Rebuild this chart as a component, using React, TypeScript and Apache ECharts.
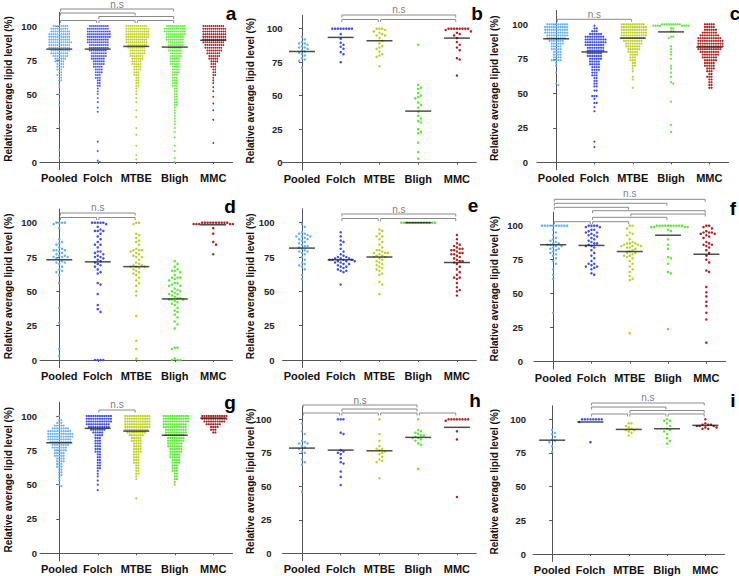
import React, { useEffect, useRef } from 'react';
import * as echarts from 'echarts';

type Entry = number | [number, number];

const categories = ['Pooled', 'Folch', 'MTBE', 'Bligh', 'MMC'];
const yTicks = [0, 25, 50, 75, 100];
const groupColors = ['#62aef0', '#3447e0', '#bccb1c', '#55e62e', '#a81616'];

// ---- panel a ---- ([value, count] = count points at that value)
const aPooled: Entry[] = [[100, 8], [98, 9], [96, 10], [94, 11], [92, 11], [90, 11], [88, 12], [86, 11], [84, 11], [82, 10], [80, 9], [78, 8], [76, 6], [74, 5], [72, 4], [70, 4], [68, 3], [66, 2], [64, 3], [62, 2], [60, 2], 57, 55, 50, 46, 42, 27, 9, 3];
const aFolch: Entry[] = [[100, 10], [98, 11], [96, 12], [94, 12], [92, 12], [90, 11], [88, 11], [86, 10], [84, 10], [82, 9], [80, 8], [78, 8], [76, 7], [74, 6], [72, 6], [70, 5], [68, 4], [66, 4], [64, 3], [62, 3], [60, 2], [58, 2], [56, 2], 54, 52, 50, 47, 44, 40, 37, 15, 8, 1, 0];
const aMTBE: Entry[] = [[100, 11], [98, 12], [96, 12], [94, 12], [92, 12], [90, 11], [88, 11], [86, 10], [84, 9], [82, 8], [80, 8], [78, 7], [76, 6], [74, 5], [72, 5], [70, 4], [68, 4], [66, 3], [64, 3], [62, 2], [60, 2], [58, 2], [56, 2], 54, 52, 50, 47, 44, 38, 33, 25, 20, 12, 5, 2];
const aBligh: Entry[] = [[100, 10], [98, 11], [96, 11], [94, 10], [92, 9], [90, 9], [88, 8], [86, 8], [84, 7], [82, 7], [80, 6], [78, 6], [76, 5], [74, 5], [72, 5], [70, 4], [68, 4], [66, 4], [64, 3], [62, 3], [60, 3], [58, 3], [56, 3], [54, 2], [52, 2], [50, 2], [48, 2], [46, 2], [44, 2], [42, 2], 40, 38, 36, 34, 32, 30, 28, 25, 22, 18, 12, 8, 3, 0];
const aMMC: Entry[] = [[100, 11], [98, 12], [96, 12], [94, 12], [92, 12], [90, 12], [88, 11], [86, 10], [84, 9], [82, 8], [80, 7], [78, 6], [76, 5], [74, 4], [72, 3], [70, 3], [68, 2], [66, 2], [64, 2], 62, 60, 58, 55, 52, 48, 43, 38, 31, 14];
const aMedians = [83, 83, 85, 84.5, 89.5];
const aPairs = [[0, 3], [0, 2], [1, 3], [0, 1], [1, 2], [2, 3]];

// ---- panel b ----
const bPooled: Entry[] = [94, 92, 90, 89, 89, 88, 87, 86, 86, 85, 84, 83, 82, 81, 80, 78, 77, 76, 71];
const bFolch: Entry[] = [[100, 8], 96, 92.5, 89.5, 88, 86.5, 85, 82.5, 81, 75];
const bMTBE: Entry[] = [[100, 3], 99, 98, 97, 96, [95, 2], 93, 91, 89, 87, 86, 85, 83, 81, 80, 79, 72];
const bBligh: Entry[] = [88, 58, 56, 55, 52, 50, 49, 48, 45, 43, 41, 38, 35, 33, 31, 30, 25, 23, 22, 15, 8, 3];
const bMMC: Entry[] = [[100, 8], 99, 98, 97, 96, 95, 93, 90, 88, 86, 84, 78, 77, 65];
const bMedians = [83, 93.5, 91, 38.5, 93];
const bPairs = [[1, 4], [1, 2], [2, 4]];

// ---- panel c ----
const cPooled: Entry[] = [[100, 10], [98, 11], [96, 11], [94, 11], [92, 10], [90, 9], [88, 7], [86, 6], [84, 5], [82, 5], [80, 4], [78, 4], [76, 4], [74, 5], 72, 70, 65, 57, 56];
const cFolch: Entry[] = [99, [97, 2], [95, 3], [93, 6], [91, 9], [89, 10], [87, 10], [85, 9], [83, 8], [81, 8], [79, 7], [77, 7], [75, 6], [73, 5], [71, 5], [69, 4], [67, 4], [65, 3], [63, 3], [61, 2], [59, 2], [57, 2], [55, 2], [52, 2], [48, 3], 46, [43, 2], 40, 37, 15, 11];
const cMTBE: Entry[] = [[100, 11], [98, 12], [96, 12], [94, 12], [92, 12], [90, 11], [88, 9], [86, 8], [84, 7], [82, 6], [80, 5], [78, 4], [76, 3], [74, 3], [72, 2], [70, 2], 68, 66, 62, 60, 54];
const cBligh: Entry[] = [[100, 9], [99, 8], [97, 2], [95, 2], [91, 2], 90, 84, 82, 80, 78, 75, 70, 68, 65, 62, 58, 57, 44, 27, 22];
const cMMC: Entry[] = [[100, 5], [98, 5], [96, 6], [94, 7], [92, 9], [90, 11], [88, 12], [86, 12], [84, 12], [82, 11], [80, 9], [78, 8], [76, 7], [74, 6], [72, 5], [70, 5], [68, 4], [66, 3], [64, 2], [62, 3], [60, 2], [58, 2], [56, 2], [54, 2]];
const cMedians = [89.5, 80, 90, 94.5, 83.5];
const cPairs = [[0, 2]];

// ---- panel d ----
const dPooled: Entry[] = [[100, 4], 99, 96, 88, 86, 85, 84, 82, 81, [80, 3], 79, 78, 77, [76, 2], [75, 3], 74, 73, 72, [71, 2], 70, 68, 66, 65, 64, 62, 56, 38, 27, 8, 3];
const dFolch: Entry[] = [[100, 5], 99, 97, 95, [94, 3], 92, 90, 88, 86, [84, 2], 82, [79, 2], 78, 77, 76, [75, 2], 74, 73, 72, 71, 70, 69, 68, 66, 64, 63, 56, 55, 48, 40, 37, 35, [0, 4]];
const dMTBE: Entry[] = [[100, 2], 99, 92, 91, 89, 87, 86, 84, 81, [80, 3], 79, 78, 77, 76, [75, 2], 73, 71, 70, [69, 2], [68, 3], 67, 66, 65, 64, 63, 62, 60, 58, 56, 54, 50, 47, 32, 14, 8, 1];
const dBligh: Entry[] = [72, 70, 68, 66, [65, 2], 64, 62, [60, 3], 59, 58, [56, 2], 55, [54, 2], 52, 51, [50, 2], 49, [48, 2], 47, 46, [45, 2], [44, 3], 43, 42, 41, 40, 38, 36, 35, 33, 31, 28, 26, 23, [9, 2], 8, 1, [0, 3]];
const dMMC: Entry[] = [[100, 10], [99, 5], 96, 92, 86, 84, 77];
const dMedians = [73, 71.5, 68, 44.5, 98.5];
const dPairs = [[0, 2], [0, 1], [1, 2]];

// ---- panel e ----
const ePooled: Entry[] = [99, 97, 93, [92, 2], 91, [90, 3], 89, [88, 2], 87, 86, 85, 84, [83, 2], 82, 81, 80, [79, 2], 78, 77, 75, 73, 71, 70, 69, 68, 66, 62, 59];
const eFolch: Entry[] = [93, 90, 87, 86, 84, 81, 79, 77, 76, [75, 2], [74, 3], [73, 4], [72, 3], [71, 2], [70, 2], 69, [68, 2], 67, 66, [65, 2], 64, 55];
const eMTBE: Entry[] = [95, 94, 92, [90, 2], 88, 86, 84, 82, [80, 2], 79, [78, 3], 77, [76, 2], [75, 2], 74, 73, 72, 71, 70, 69, 68, 67, 66, 65, 63, 62, 57, 55, 48];
const eBligh: Entry[] = [[100, 13]];
const eMMC: Entry[] = [91, 88, 85, 84, 83, 82, [81, 2], [80, 2], 79, [78, 2], [77, 2], 76, 75, 74, 73, [72, 2], 71, 70, 68, 66, 64, 62, [60, 2], 59, 56, 53, 51, 50, 47];
const eMedians = [81.5, 73, 75, 100, 71];
const ePairs = [[1, 4], [1, 2], [2, 4]];

// ---- panel f ----
const fPooled: Entry[] = [[100, 10], 97, 95, 93, 91, 90, 89, 88, [87, 2], [86, 2], [85, 2], 84, [83, 2], 82, 81, 80, 79, 78, 76, 74, 72, 68, 64, 61, 36];
const fFolch: Entry[] = [[100, 4], [99, 2], [97, 2], 96, [95, 2], 94, [93, 2], 92, 91, 90, 89, 88, [87, 2], 86, [85, 2], 84, 82, 80, 78, 76, 74, [72, 2], 71, [70, 2], 69, 68, 65, 64];
const fMTBE: Entry[] = [[100, 2], 98, 95, 94, 93, 90, 88, [87, 3], [86, 2], [85, 3], [84, 2], 83, 82, 81, [80, 2], 79, [78, 2], 77, 76, 74, 72, 70, 68, 66, 63, 61, 60, 21];
const fBligh: Entry[] = [[100, 10], [99, 4], 97, 96, 90, 86, 83, 77, 76, 72, 66, 65, 24];
const fMMC: Entry[] = [[100, 2], 99, 98, 96, [95, 3], [94, 2], 93, 92, 91, 88, 87, [86, 2], 85, 84, 82, 80, 78, 75, 73, 67, 66, 55, 51, 48, 44, 41, 36, 31, 14];
const fMedians = [86, 85.5, 81, 93, 79];
const fPairs = [[0, 4], [0, 3], [0, 2], [1, 4], [2, 4], [1, 3], [0, 1], [1, 2]];

// ---- panel g ----
const gPooled: Entry[] = [100, [97, 2], [95, 3], [93, 5], [91, 8], [89, 11], [87, 12], [85, 12], [83, 11], [81, 10], [79, 8], [77, 7], [75, 6], [73, 5], [71, 5], [69, 4], [67, 4], [65, 3], [63, 3], [61, 2], [59, 2], [57, 2], 55, 53, 50, 49];
const gFolch: Entry[] = [[100, 12], [98, 12], [96, 12], [94, 11], [92, 10], [90, 7], [88, 5], [86, 4], [84, 3], [82, 3], [80, 3], [78, 3], [76, 3], [74, 3], [72, 2], [70, 2], [68, 2], [66, 2], [64, 2], [62, 2], 60, 58, 56, 53, 50, 46];
const gMTBE: Entry[] = [[100, 12], [98, 12], [96, 12], [94, 12], [92, 12], [90, 11], [88, 9], [86, 7], [84, 5], [82, 5], [80, 4], [78, 4], [76, 4], [74, 4], [72, 3], [70, 3], [68, 3], [66, 3], [64, 2], [62, 2], [60, 2], [58, 2], 56, 54, 40];
const gBligh: Entry[] = [[100, 12], [98, 12], [96, 12], [94, 11], [92, 11], [90, 10], [88, 10], [86, 9], [84, 8], [82, 8], [80, 7], [78, 7], [76, 6], [74, 6], [72, 5], [70, 5], [68, 4], [66, 4], [64, 3], [62, 3], [60, 3], [58, 2], [56, 2], [54, 2], 52, 50];
const gMMC: Entry[] = [[100, 12], [98, 12], [96, 10], [94, 7], [92, 4], [90, 3], [88, 2]];
const gMedians = [80.5, 91, 89, 86, 98.5];
const gPairs = [[1, 2]];

// ---- panel h ----
const hPooled: Entry[] = [97, 91, 89, 84, 83, [82, 2], 80, 79, 78, 76, 75, 70, 68, 66, 46];
const hFolch: Entry[] = [[100, 3], 90, 89, 77, 76, 75, 74, 71, 68, 67, 61, 57, 51];
const hMTBE: Entry[] = [100, 89, 84, 80, [78, 2], 77, 76, 75, 74, 72, 70, 69, 68, 56];
const hBligh: Entry[] = [100, 92, 91, 90, 89, [88, 2], 87, [86, 2], 85, 84, 82, 81, 63];
const hMMC: Entry[] = [[100, 8], 99, 91, 85, 42];
const hMedians = [78.5, 77, 76.5, 86.5, 94];
const hPairs = [[0, 3], [1, 3], [0, 1], [1, 2], [2, 3], [3, 4]];

// ---- panel i ----
const iPooled: Entry[] = [92, 90, 89, 87, 85, 84, 83, 80, 76];
const iFolch: Entry[] = [[100, 8], 98, 83];
const iMTBE: Entry[] = [[97, 2], 95, 94, 93, [92, 2], 91, 90, 88];
const iBligh: Entry[] = [100, [99, 2], 97, 95, 93, 92, 91, 89, 86, 84, 82];
const iMMC: Entry[] = [100, 97, [96, 3], [95, 3], [94, 2], [93, 2]];
const iMedians = [84.5, 98, 92.5, 93, 95.5];
const iPairs = [[1, 4], [1, 3], [2, 4], [1, 2], [2, 3], [3, 4]];

const panelGroups = [
  [aPooled, aFolch, aMTBE, aBligh, aMMC],
  [bPooled, bFolch, bMTBE, bBligh, bMMC],
  [cPooled, cFolch, cMTBE, cBligh, cMMC],
  [dPooled, dFolch, dMTBE, dBligh, dMMC],
  [ePooled, eFolch, eMTBE, eBligh, eMMC],
  [fPooled, fFolch, fMTBE, fBligh, fMMC],
  [gPooled, gFolch, gMTBE, gBligh, gMMC],
  [hPooled, hFolch, hMTBE, hBligh, hMMC],
  [iPooled, iFolch, iMTBE, iBligh, iMMC],
];
const panelMedians = [aMedians, bMedians, cMedians, dMedians, eMedians, fMedians, gMedians, hMedians, iMedians];
const panelPairs = [aPairs, bPairs, cPairs, dPairs, ePairs, fPairs, gPairs, hPairs, iPairs];
const panelLetters = ['a', 'b', 'c', 'd', 'e', 'f', 'g', 'h', 'i'];

// ---- layout (pixels) ----
interface Layout { left: number; width: number; y100: number; y0: number; yOff: number; rows: number[]; ns: number; lx: number; ly: number; tx: number; dot: number; gap: number; }
const layouts: Layout[] = [
  { left: 40, width: 192.5, y100: 26, y0: 162, yOff: 0, rows: [9, 13, 16.5, 20.5, 20.5, 20.5], ns: 4.5, lx: 231, ly: 13, tx: 8, dot: 1.8, gap: 2.0 },
  { left: 282.6, width: 193.7, y100: 28.7, y0: 162.7, yOff: -3, rows: [15, 19.5, 19.5], ns: 9, lx: 477, ly: 13, tx: 250, dot: 2.5, gap: 2.8 },
  { left: 537, width: 191.5, y100: 24.3, y0: 162.3, yOff: 6, rows: [19.3], ns: 14, lx: 735, ly: 13, tx: 494, dot: 2.2, gap: 2.2 },
  { left: 40, width: 192.5, y100: 222.7, y0: 360, yOff: 0, rows: [213, 217.5, 217.5], ns: 207.5, lx: 230, ly: 206, tx: 8, dot: 2.5, gap: 2.8 },
  { left: 282.6, width: 193.7, y100: 222.7, y0: 360, yOff: 5, rows: [214, 218.5, 218.5], ns: 209, lx: 473, ly: 205, tx: 250, dot: 2.5, gap: 2.8 },
  { left: 534, width: 191.5, y100: 225.7, y0: 361.7, yOff: 8, rows: [199.3, 203.3, 207.3, 210.7, 214, 217.3, 221.7, 221.7], ns: 193.5, lx: 733, ly: 208, tx: 494, dot: 2.5, gap: 2.8 },
  { left: 40, width: 192.5, y100: 416, y0: 553.3, yOff: 0, rows: [410], ns: 404, lx: 230, ly: 402, tx: 8, dot: 2.2, gap: 2.2 },
  { left: 282.6, width: 193.7, y100: 419.3, y0: 553.3, yOff: 8, rows: [405, 409, 413, 413, 413, 413], ns: 400, lx: 475, ly: 400, tx: 250, dot: 2.5, gap: 2.8 },
  { left: 533, width: 191.5, y100: 419.3, y0: 554, yOff: 4, rows: [403, 407, 410.5, 414, 414, 414], ns: 397, lx: 733, ly: 400, tx: 494, dot: 2.5, gap: 2.8 },
];

const Y_MIN = -5.5;
const Y_MAX = 110;
const NARROW = "'Liberation Sans Narrow', 'Arial Narrow', 'Liberation Sans', sans-serif";
const SANS = "'Liberation Sans', Arial, sans-serif";

function expand(g: Entry[]): number[] {
  const out: number[] = [];
  for (const e of g) {
    if (Array.isArray(e)) { for (let k = 0; k < e[1]; k++) out.push(e[0]); }
    else out.push(e);
  }
  return out;
}

// beeswarm layout: returns [offsetPx, value]
function swarm(values: number[], pxPerUnit: number, d: number): [number, number][] {
  const sorted = [...values].sort((p, q) => q - p);
  const placed: { x: number; y: number }[] = [];
  const res: [number, number][] = [];
  for (const v of sorted) {
    const y = v * pxPerUnit;
    let chosen = 0;
    for (let k = 0; k < 80; k++) {
      const cand = k === 0 ? 0 : (k % 2 === 1 ? Math.ceil(k / 2) * d : -Math.ceil(k / 2) * d);
      let ok = true;
      for (let j = placed.length - 1; j >= 0; j--) {
        const p = placed[j];
        const dy = p.y - y;
        if (dy >= d) break;
        const dx = p.x - cand;
        if (dx * dx + dy * dy < d * d * 0.999) { ok = false; break; }
      }
      if (ok) { chosen = cand; break; }
    }
    placed.push({ x: chosen, y });
    res.push([chosen, v]);
  }
  return res;
}

function buildOption() {
  const grid: any[] = [];
  const xAxis: any[] = [];
  const yAxis: any[] = [];
  const series: any[] = [];
  const graphic: any[] = [];

  layouts.forEach((L, i) => {
    const s = (L.y0 - L.y100) / 100;
    const top = L.y100 - (Y_MAX - 100) * s;
    const height = (Y_MAX - Y_MIN) * s;
    const band = L.width / 5;
    grid.push({ left: L.left, top, width: L.width, height });
    xAxis.push({
      type: 'category', gridIndex: i, data: categories, position: 'bottom',
      axisLine: { show: true, lineStyle: { color: '#555', width: 1 } },
      axisTick: { show: true, alignWithLabel: true, length: 2, lineStyle: { color: '#555' } },
      axisLabel: { interval: 0, margin: 3, fontFamily: NARROW, fontWeight: 'bold', fontSize: 11, color: '#111' },
      splitLine: { show: false },
    });
    xAxis.push({ type: 'value', gridIndex: i, min: -0.5, max: 4.5, show: false, splitLine: { show: false } });
    yAxis.push({
      type: 'value', gridIndex: i, min: Y_MIN, max: Y_MAX, offset: L.yOff,
      axisLine: { show: true, lineStyle: { color: '#555', width: 1 } },
      axisTick: { show: true, length: 3, customValues: yTicks, lineStyle: { color: '#555' } },
      axisLabel: { customValues: yTicks, margin: 3, fontFamily: NARROW, fontWeight: 'bold', fontSize: 9.5, color: '#222' },
      splitLine: { show: false },
    });

    const xi = 2 * i + 1;
    panelGroups[i].forEach((g, gi) => {
      const pts = swarm(expand(g), s, L.gap);
      series.push({
        type: 'scatter', xAxisIndex: xi, yAxisIndex: i, silent: true, clip: false,
        symbol: 'circle', symbolSize: L.dot,
        itemStyle: { color: groupColors[gi], opacity: 0.95 },
        data: pts.map(([ox, v]) => [gi + ox / band, v]),
        z: 2,
      });
    });
    series.push({
      type: 'scatter', xAxisIndex: xi, yAxisIndex: i, silent: true, clip: false,
      symbol: 'rect', symbolSize: [26, 1.5],
      itemStyle: { color: '#1e1e1e' },
      data: panelMedians[i].map((m, gi) => [gi, m]),
      z: 4,
    });
    const leg = 2.5 / s;
    panelPairs[i].forEach((pr, k) => {
      const yv = (L.y0 - L.rows[k]) / s;
      const x1 = pr[0] + 0.03;
      const x2 = pr[1] - 0.03;
      series.push({
        type: 'line', xAxisIndex: xi, yAxisIndex: i, silent: true, clip: false,
        symbol: 'none', lineStyle: { color: '#8a8a8a', width: 1 },
        data: [[x1, yv - leg], [x1, yv], [x2, yv], [x2, yv - leg]],
        z: 3,
      });
    });
    const first = panelPairs[i][0];
    series.push({
      type: 'scatter', xAxisIndex: xi, yAxisIndex: i, silent: true, clip: false,
      symbol: 'circle', symbolSize: 1, itemStyle: { color: 'rgba(0,0,0,0)' },
      label: { show: true, position: 'inside', formatter: 'n.s', fontFamily: SANS, fontSize: 10, color: '#555' },
      data: [[(first[0] + first[1]) / 2, (L.y0 - L.ns) / s]],
      z: 3,
    });

    graphic.push({
      type: 'text', x: L.tx, y: (L.y100 + L.y0) / 2 - 5, rotation: Math.PI / 2,
      style: { text: 'Relative average lipid level (%)', fontFamily: SANS, fontWeight: 'bold', fontSize: 10, fill: '#111', textAlign: 'center', textVerticalAlign: 'middle' },
    });
    graphic.push({
      type: 'text', x: L.lx, y: L.ly,
      style: { text: panelLetters[i], fontFamily: SANS, fontWeight: 'bold', fontSize: 19, fill: '#000', textAlign: 'center', textVerticalAlign: 'middle' },
    });
  });

  return { animation: false, backgroundColor: '#ffffff', grid, xAxis, yAxis, series, graphic };
}

export default function App() {
  const ref = useRef<HTMLDivElement>(null);
  useEffect(() => {
    if (!ref.current) return;
    const chart = echarts.init(ref.current, undefined, { renderer: 'svg' });
    chart.setOption(buildOption() as any);
    return () => chart.dispose();
  }, []);
  return <div ref={ref} style={{ position: 'fixed', left: 0, top: 0, width: 739, height: 576, background: '#fff' }} />;
}
